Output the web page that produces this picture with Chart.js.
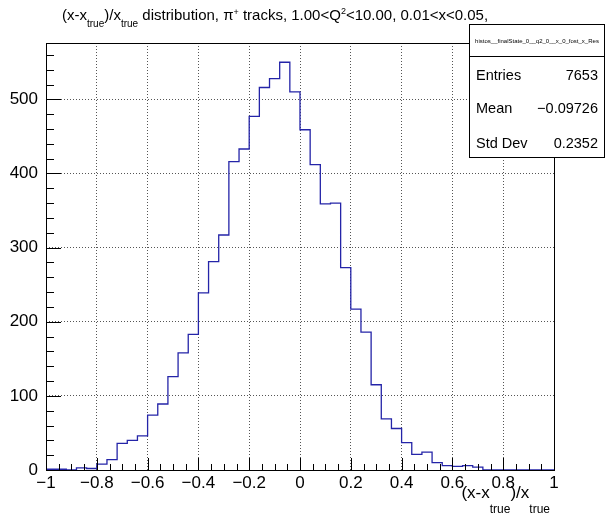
<!DOCTYPE html>
<html>
<head>
<meta charset="utf-8">
<script src="https://cdn.jsdelivr.net/npm/chart.js@4/dist/chart.umd.min.js"></script>
<style>
  html, body { margin: 0; padding: 0; background: #fff; }
  #wrap { width: 615px; height: 524px; }
</style>
</head>
<body>
<div id="wrap"><canvas id="histChart" width="615" height="524"></canvas></div>
<script>
// bin low edges of (x-x_true)/x_true, 50 bins from -1 to 1
const binEdges = [-1.00, -0.96, -0.92, -0.88, -0.84, -0.80, -0.76, -0.72, -0.68, -0.64,
                  -0.60, -0.56, -0.52, -0.48, -0.44, -0.40, -0.36, -0.32, -0.28, -0.24,
                  -0.20, -0.16, -0.12, -0.08, -0.04, 0.00, 0.04, 0.08, 0.12, 0.16,
                  0.20, 0.24, 0.28, 0.32, 0.36, 0.40, 0.44, 0.48, 0.52, 0.56,
                  0.60, 0.64, 0.68, 0.72, 0.76, 0.80, 0.84, 0.88, 0.92, 0.96, 1.00];
// entries per bin
const binCounts = [1, 1, 0, 3, 2, 8, 14, 36, 40, 46,
                   74, 89, 126, 158, 183, 239, 281, 317, 416, 433,
                   477, 516, 528, 550, 510, 459, 412, 359, 360, 273,
                   217, 186, 115, 69, 56, 37, 21, 24, 10, 6,
                   5, 6, 4, 0, 0, 0, 0, 0, 0, 0];
const xTicks = [-1, -0.8, -0.6, -0.4, -0.2, 0, 0.2, 0.4, 0.6, 0.8, 1];
const yTicks = [0, 100, 200, 300, 400, 500];
const statLabels = ['Entries', 'Mean', 'Std Dev'];
const statValues = ['7653', '\u22120.09726', '0.2352'];
const histName = 'histos__finalState_0__q2_0__x_0_fost_x_Res';

const FONT = '"Liberation Sans", Arial, Helvetica, sans-serif';

// histogram outline points: left edge of each bin, plus closing point
const points = binCounts.map((c, i) => ({ x: binEdges[i], y: c }));
points.push({ x: binEdges[binEdges.length - 1], y: 0 });

function fmtTick(v) {
    if (Math.abs(v) < 1e-9) return '0';
    const s = String(Math.round(v * 10) / 10);
    return s.replace('-', '\u2212');
}

// draw a run of text pieces: [text, sizePx, dy]
function drawRich(ctx, x, y, parts) {
    let cx = x;
    parts.forEach(p => {
        ctx.font = p[1] + 'px ' + FONT;
        ctx.fillText(p[0], cx, y + p[2]);
        cx += ctx.measureText(p[0]).width;
    });
    return cx;
}
function richWidth(ctx, parts) {
    let w = 0;
    parts.forEach(p => { ctx.font = p[1] + 'px ' + FONT; w += ctx.measureText(p[0]).width; });
    return w;
}

const rootDecor = {
    id: 'rootDecor',
    afterDraw(chart) {
        const ctx = chart.ctx;
        const a = chart.chartArea;
        const xs = chart.scales.x, ys = chart.scales.y;
        ctx.save();
        ctx.strokeStyle = '#000';
        ctx.lineWidth = 1;

        // inward tick marks
        ctx.beginPath();
        for (let k = 0; k <= 40; k++) {
            const v = -1 + k * 0.05;
            const px = Math.round(xs.getPixelForValue(v)) + 0.5;
            const len = (k % 4 === 0) ? 12 : 6;
            ctx.moveTo(px, a.bottom);
            ctx.lineTo(px, a.bottom - len);
        }
        for (let v = 0; v <= ys.max; v += 20) {
            const py = Math.round(ys.getPixelForValue(v)) + 0.5;
            const len = (v % 100 === 0) ? 15 : 8;
            ctx.moveTo(a.left, py);
            ctx.lineTo(a.left + len, py);
        }
        ctx.stroke();

        // frame
        ctx.strokeRect(Math.round(a.left) + 0.5, Math.round(a.top) + 0.5,
                       Math.round(a.right - a.left), Math.round(a.bottom - a.top));

        // title
        ctx.fillStyle = '#000';
        ctx.textBaseline = 'alphabetic';
        ctx.textAlign = 'left';
        const tParts = [['(x-x', 15, 0], ['true', 10, 7], [')/x', 15, 0], ['true', 10, 7],
                        [' distribution, \u03c0', 15, 0], ['+', 9, -5],
                        [' tracks, 1.00<Q', 15, 0], ['2', 9, -6],
                        ['<10.00, 0.01<x<0.05,', 15, 0]];
        drawRich(ctx, 62, 20, tParts);

        // x axis title, right aligned near the frame edge
        const axParts = [['(x-x', 17, 0], ['true', 12, 15], [')/x', 17, 0], ['true', 12, 15]];
        drawRich(ctx, a.right - 4 - richWidth(ctx, axParts), 498, axParts);

        // stats box
        const bx = 469.5, by = 24.5, bw = 135, bh = 133;
        ctx.fillStyle = '#fff';
        ctx.fillRect(bx, by, bw, bh);
        ctx.strokeRect(bx, by, bw, bh);
        ctx.beginPath();
        ctx.moveTo(bx, 56.5);
        ctx.lineTo(bx + bw, 56.5);
        ctx.stroke();
        ctx.fillStyle = '#000';
        ctx.font = '6px ' + FONT;
        ctx.textAlign = 'center';
        ctx.fillText(histName, bx + bw / 2, 43);
        ctx.font = '14.5px ' + FONT;
        const rowY = [80, 113, 148];
        statLabels.forEach((lab, i) => {
            ctx.textAlign = 'left';
            ctx.fillText(lab, 476, rowY[i]);
            ctx.textAlign = 'right';
            ctx.fillText(statValues[i], 598, rowY[i]);
        });
        ctx.restore();
    }
};

const ctx = document.getElementById('histChart').getContext('2d');
new Chart(ctx, {
    type: 'line',
    data: {
        datasets: [{
            label: histName,
            data: points,
            stepped: 'before',
            borderColor: '#2424a8',
            borderWidth: 1.3,
            pointRadius: 0,
            fill: false
        }]
    },
    options: {
        responsive: false,
        animation: false,
        layout: { padding: { left: 0, top: 43, right: 61, bottom: 0 } },
        plugins: {
            legend: { display: false },
            title: { display: false },
            tooltip: { enabled: false }
        },
        scales: {
            x: {
                type: 'linear',
                min: -1,
                max: 1,
                afterFit: s => { s.height = 54; },
                afterBuildTicks: s => { s.ticks = xTicks.map(v => ({ value: v })); },
                ticks: {
                    color: '#000',
                    font: { family: FONT, size: 17 },
                    padding: 3,
                    maxRotation: 0,
                    autoSkip: false,
                    callback: v => fmtTick(v)
                },
                grid: { color: '#555', lineWidth: 1, drawTicks: false },
                border: { display: false, dash: [1, 2] }
            },
            y: {
                min: 0,
                max: 576,
                afterFit: s => { s.width = 46; },
                afterBuildTicks: s => { s.ticks = yTicks.map(v => ({ value: v })); },
                ticks: {
                    color: '#000',
                    font: { family: FONT, size: 17 },
                    padding: 8,
                    callback: v => String(v)
                },
                grid: { color: '#555', lineWidth: 1, drawTicks: false },
                border: { display: false, dash: [1, 2] }
            }
        }
    },
    plugins: [rootDecor]
});
</script>
</body>
</html>
